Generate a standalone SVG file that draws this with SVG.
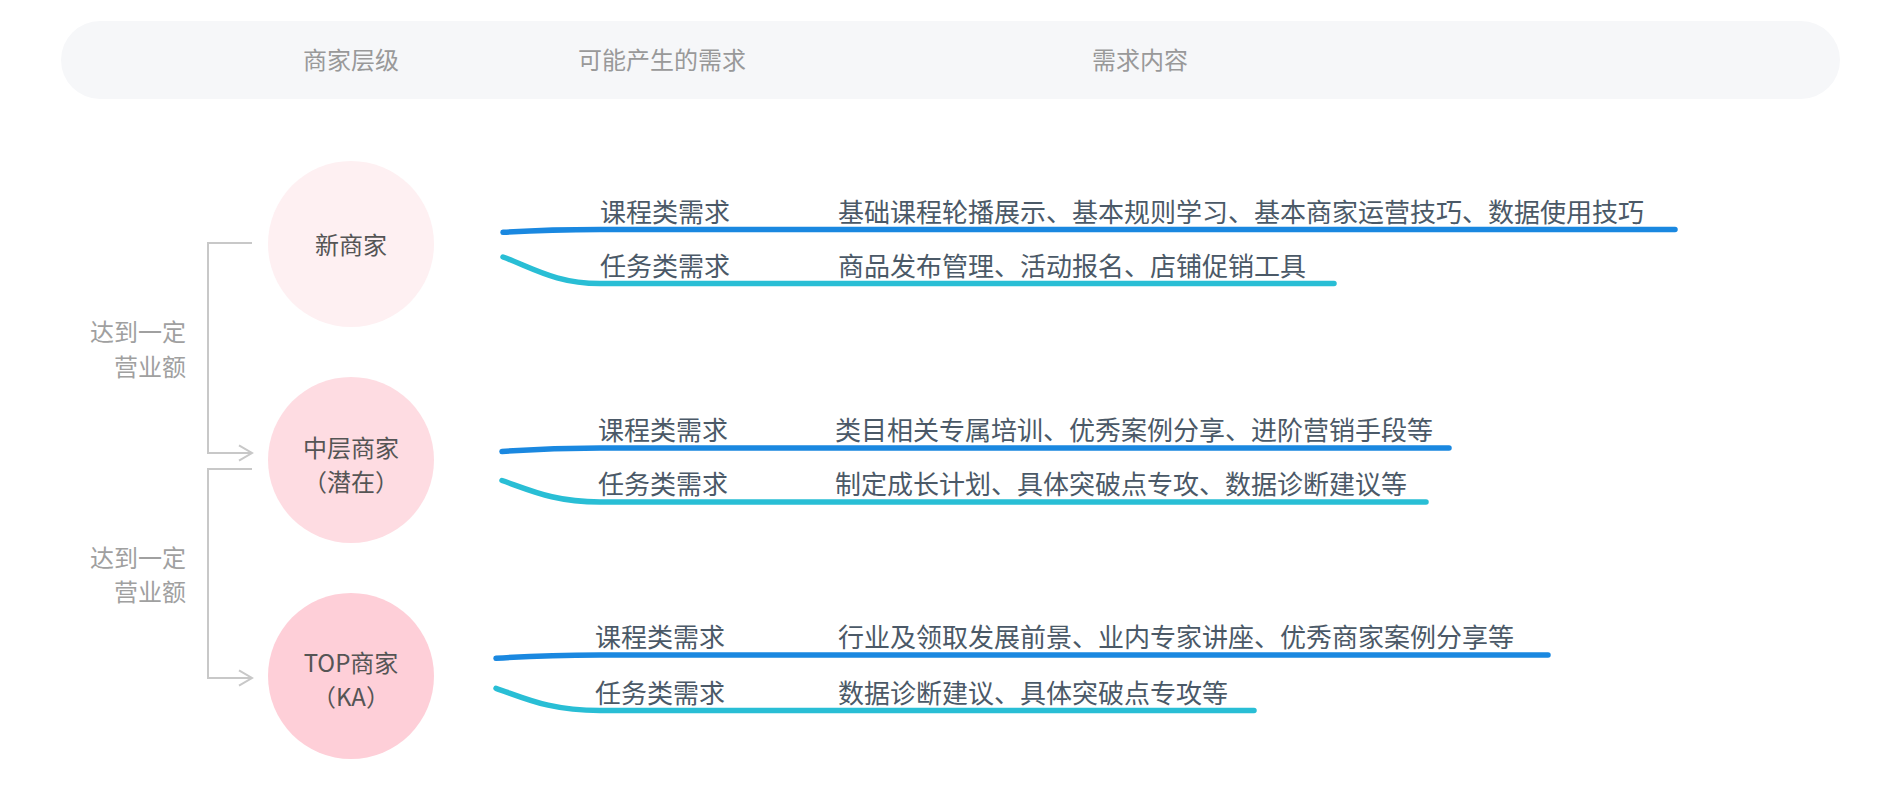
<svg xmlns="http://www.w3.org/2000/svg" width="1900" height="802" viewBox="0 0 1900 802">
<defs>
<style>
text{font-family:"Noto Sans CJK SC","Noto Sans",sans-serif;}
.hd{font-size:24px;fill:#999999;text-anchor:middle;}
.ct{font-size:24px;fill:#555555;text-anchor:middle;}
.lf{font-size:24px;fill:#a0a0a0;text-anchor:end;}
.lb{font-size:26px;fill:#4b5967;}
.cn{font-size:26px;fill:#4b5967;}
.br{fill:none;stroke:#c8c8c8;stroke-width:2;}
.bl{fill:none;stroke:#1a88e0;stroke-width:5.5;stroke-linecap:round;}
.tl{fill:none;stroke:#29bed5;stroke-width:5.5;stroke-linecap:round;}
</style>
<marker id="chev" markerUnits="userSpaceOnUse" viewBox="-16 -10 20 20" markerWidth="20" markerHeight="20" refX="0" refY="0" orient="auto">
<path d="M-13,-7.7 L0,0 L-13,7.7" fill="none" stroke="#c8c8c8" stroke-width="2"/>
</marker>
</defs>
<rect width="1900" height="802" fill="#ffffff"/>
<g id="header">
<rect x="61" y="21" width="1779" height="78" rx="39" fill="#f6f7f9"/>
<text class="hd" x="351" y="69">商家层级</text>
<text class="hd" x="662" y="69">可能产生的需求</text>
<text class="hd" x="1140" y="69">需求内容</text>
</g>
<g id="connectors">
<path class="br" d="M252,243 H208 V453 H252" marker-end="url(#chev)"/>
<path class="br" d="M252,469 H208 V678 H252" marker-end="url(#chev)"/>
<path class="bl" d="M503,232.3 C540,230 565,229.5 600,229.5 L1675,229.5"/>
<path class="tl" d="M503,257 C533,268 556,283.5 600,283.5 L1334,283.5"/>
<path class="bl" d="M502,451.5 C540,448.8 565,448 600,448 L1449,448"/>
<path class="tl" d="M502,480.5 C532,491 555,502 600,502 L1426,502"/>
<path class="bl" d="M496,658.3 C535,655.6 560,655 600,655 L1548,655"/>
<path class="tl" d="M496,688.3 C527,699 550,710.5 600,710.5 L1254,710.5"/>
</g>
<g id="label-up1">
<text class="lf" x="186" y="341">达到一定</text>
<text class="lf" x="186" y="376">营业额</text>
</g>
<g id="label-up2">
<text class="lf" x="186" y="567">达到一定</text>
<text class="lf" x="186" y="601">营业额</text>
</g>
<g id="node-new">
<circle cx="351" cy="244" r="83" fill="#fef0f2"/>
<text class="ct" x="351" y="254">新商家</text>
</g>
<g id="node-mid">
<circle cx="351" cy="460" r="83" fill="#fedce2"/>
<text class="ct" x="351" y="457">中层商家</text>
<text class="ct" x="351" y="491">（潜在）</text>
</g>
<g id="node-top">
<circle cx="351" cy="676" r="83" fill="#fecfd8"/>
<text class="ct" x="351" y="672">TOP商家</text>
<text class="ct" x="351" y="706">（KA）</text>
</g>
<g id="row-new">
<text class="lb" x="600" y="222">课程类需求</text>
<text class="cn" x="838" y="222">基础课程轮播展示、基本规则学习、基本商家运营技巧、数据使用技巧</text>
<text class="lb" x="600" y="276">任务类需求</text>
<text class="cn" x="838" y="276">商品发布管理、活动报名、店铺促销工具</text>
</g>
<g id="row-mid">
<text class="lb" x="598" y="440">课程类需求</text>
<text class="cn" x="835" y="440">类目相关专属培训、优秀案例分享、进阶营销手段等</text>
<text class="lb" x="598" y="494">任务类需求</text>
<text class="cn" x="835" y="494">制定成长计划、具体突破点专攻、数据诊断建议等</text>
</g>
<g id="row-top">
<text class="lb" x="595" y="647">课程类需求</text>
<text class="cn" x="838" y="647">行业及领取发展前景、业内专家讲座、优秀商家案例分享等</text>
<text class="lb" x="595" y="703">任务类需求</text>
<text class="cn" x="838" y="703">数据诊断建议、具体突破点专攻等</text>
</g>
</svg>
